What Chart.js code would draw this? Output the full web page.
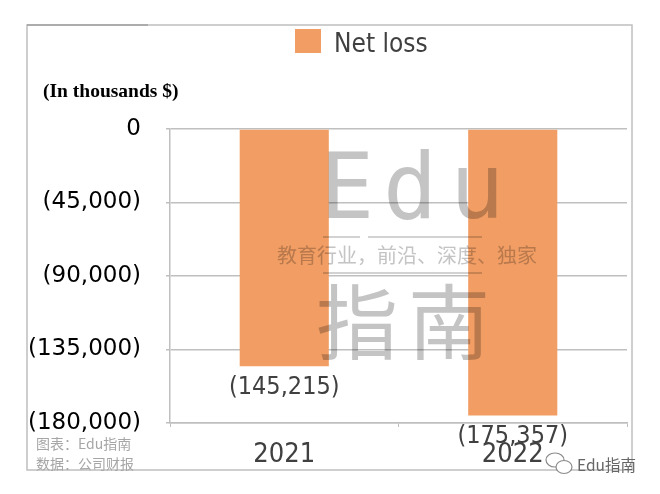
<!DOCTYPE html>
<html>
<head>
<meta charset="utf-8">
<script src="https://cdn.jsdelivr.net/npm/chart.js@4"></script>
<style>
  html, body { margin: 0; padding: 0; background: #fff; }
  #wrap { width: 660px; height: 494px; }
</style>
</head>
<body>
<div id="wrap"><canvas id="lossChart" width="660" height="494"></canvas></div>
<script>
// ===== DATA =====
const years = ['2021', '2022'];
const netLoss = [-145215, -175357];
const seriesName = 'Net loss';
const yMin = -180000;
const yMax = 0;
const yStep = 45000;

// ===== HELPERS =====
const barColor = '#F19D63';
const gridColor = '#bfbfbf';
const textDark = '#404040';

function fmtThousands(v) {
  if (v === 0) return '0';
  const s = Math.abs(v).toLocaleString('en-US');
  return v < 0 ? '(' + s + ')' : s;
}

// ===== DECORATION PLUGIN =====
const decor = {
  id: 'decor',
  beforeDraw(chart) {
    const ctx = chart.ctx;
    ctx.save();
    ctx.fillStyle = '#fff';
    ctx.fillRect(0, 0, chart.width, chart.height);
    // outer frame
    ctx.strokeStyle = gridColor;
    ctx.lineWidth = 1.5;
    ctx.strokeRect(27, 25, 605, 445);
    ctx.strokeStyle = '#a0a0a0';
    ctx.beginPath();
    ctx.moveTo(27, 25);
    ctx.lineTo(148, 25);
    ctx.stroke();
    ctx.restore();
  },
  afterDatasetsDraw(chart) {
    const ctx = chart.ctx;
    // watermark
    ctx.save();
    ctx.globalCompositeOperation = 'multiply';
    ctx.fillStyle = '#c4c4c4';
    ctx.strokeStyle = '#c4c4c4';
    ctx.textAlign = 'center';
    ctx.textBaseline = 'alphabetic';
    ctx.font = '90px "DejaVu Sans Mono"';
    const eduX = [347, 410, 477];
    'Edu'.split('').forEach((ch, i) => ctx.fillText(ch, eduX[i], 218));
    ctx.font = '20px "Noto Sans CJK SC"';
    ctx.textBaseline = 'middle';
    ctx.fillText('教育行业，前沿、深度、独家', 407, 255);
    ctx.lineWidth = 1.5;
    ctx.beginPath();
    ctx.moveTo(323, 237); ctx.lineTo(360, 237);
    ctx.moveTo(368, 237); ctx.lineTo(482, 237);
    ctx.moveTo(323, 273); ctx.lineTo(482, 273);
    ctx.stroke();
    ctx.font = '82px "Noto Sans CJK SC"';
    ctx.textBaseline = 'middle';
    ctx.fillText('指', 357, 322);
    ctx.fillText('南', 449, 322);
    ctx.restore();

    // value labels under bar ends
    const meta = chart.getDatasetMeta(0);
    ctx.save();
    ctx.fillStyle = textDark;
    ctx.font = '25px "DejaVu Sans Condensed", "DejaVu Sans"';
    ctx.textAlign = 'center';
    ctx.textBaseline = 'middle';
    meta.data.forEach((bar, i) => {
      ctx.fillText(fmtThousands(netLoss[i]), bar.x, bar.y + 21);
    });
    ctx.restore();
  },
  afterDraw(chart) {
    const ctx = chart.ctx;
    const ds = chart.data.datasets[0];
    ctx.save();
    // legend
    ctx.fillStyle = ds.backgroundColor;
    ctx.fillRect(295, 29, 26, 24);
    ctx.fillStyle = textDark;
    ctx.font = '26px "DejaVu Sans Condensed", "DejaVu Sans"';
    ctx.textAlign = 'left';
    ctx.textBaseline = 'alphabetic';
    ctx.fillText(ds.label, 334, 52);

    // unit note
    ctx.fillStyle = '#000';
    ctx.font = 'bold 19.5px "Liberation Serif"';
    ctx.fillText('(In thousands $)', 43, 97);

    // source notes
    ctx.fillStyle = '#a6a6a6';
    ctx.font = '14px "Noto Sans CJK SC"';
    ctx.textBaseline = 'middle';
    ctx.fillText('图表：Edu指南', 36, 444);
    ctx.fillText('数据：公司财报', 36, 464);

    // wechat mark
    ctx.strokeStyle = '#8a8a8a';
    ctx.lineWidth = 1.2;
    ctx.beginPath();
    ctx.ellipse(555, 460, 9, 7, 0, 0, Math.PI * 2);
    ctx.stroke();
    ctx.fillStyle = '#fff';
    ctx.beginPath();
    ctx.ellipse(564, 467, 8, 6.5, 0, 0, Math.PI * 2);
    ctx.fill();
    ctx.stroke();
    ctx.fillStyle = '#666';
    ctx.font = '15.5px "Noto Sans CJK SC"';
    ctx.fillText('Edu指南', 577, 465);
    ctx.restore();
  }
};

// ===== CHART =====
const canvas = document.getElementById('lossChart');
new Chart(canvas, {
  type: 'bar',
  data: {
    labels: years,
    datasets: [{
      label: seriesName,
      data: netLoss,
      backgroundColor: barColor,
      categoryPercentage: 1,
      barPercentage: 0.39
    }]
  },
  options: {
    responsive: false,
    animation: false,
    layout: { padding: { left: 0, right: 33, top: 129, bottom: 0 } },
    plugins: {
      legend: { display: false },
      tooltip: { enabled: false }
    },
    scales: {
      x: {
        afterFit(scale) { scale.height = 494 - 423; },
        grid: { drawOnChartArea: false, drawTicks: true, tickLength: 4, color: gridColor },
        border: { display: true, color: gridColor, width: 1.5 },
        ticks: {
          color: textDark,
          padding: 12,
          font: { family: '"DejaVu Sans Condensed", "DejaVu Sans"', size: 27 }
        }
      },
      y: {
        min: yMin,
        max: yMax,
        afterFit(scale) { scale.width = 170; },
        grid: { color: gridColor, lineWidth: 1.5, tickLength: 4 },
        border: { display: true, color: gridColor, width: 1.5 },
        ticks: {
          stepSize: yStep,
          color: '#000',
          padding: 25,
          font: { family: '"DejaVu Sans"', size: 23 },
          callback: v => fmtThousands(v)
        }
      }
    }
  },
  plugins: [decor]
});
</script>
</body>
</html>
